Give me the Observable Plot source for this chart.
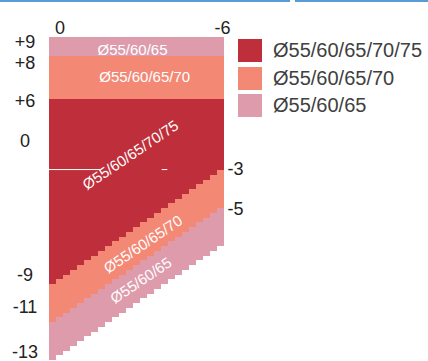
<!DOCTYPE html>
<html><head><meta charset="utf-8">
<script src="https://cdn.jsdelivr.net/npm/d3@7"></script>
<script src="https://cdn.jsdelivr.net/npm/@observablehq/plot@0.6"></script>
<style>
html,body{margin:0;padding:0;background:#fff;}
#wrap{position:relative;width:428px;height:361px;overflow:hidden;font-family:"Liberation Sans",Arial,sans-serif;}
#chart{position:absolute;left:0;top:0;}
.topline{position:absolute;top:0;height:2px;background:#5B9BD5;}
#legend{position:absolute;left:238px;top:37px;}
.li{display:flex;align-items:center;height:27.5px;}
.sw{width:24px;height:23px;margin-right:11px;}
.lt{font-size:20px;color:#404040;white-space:nowrap;}
</style></head><body>
<div id="wrap">
  <div class="topline" style="left:0;width:290px"></div>
  <div class="topline" style="left:295px;width:133px"></div>
  <div id="chart"></div>
  <div id="legend"></div>
</div>
<script>
// 25 stepped columns; y in step units (0 = top of chart)
const columns = [0,1,2,3,4,5,6,7,8,9,10,11,12,13,14,15,16,17,18,19,20,21,22,23,24];
const redBottom    = [52,51,50,49,48,47,46,45,44,43,42,41,40,39,38,37,36,35,34,33,32,31,30,29,28];
const salmonBottom = [60,59,58,57,56,55,54,53,52,51,50,49,48,47,46,45,44,43,42,41,40,39,38,37,36];
const pinkBottom   = [68,67,66,65,64,63,62,61,60,59,58,57,56,55,54,53,52,51,50,49,48,47,46,45,44];
const pinkTop = 0, salmonTop = 4, redTop = 13;

const seriesNames  = ["Ø55/60/65/70/75", "Ø55/60/65/70", "Ø55/60/65"];
const seriesColors = ["#BF2F3B", "#F38875", "#DD9BAC"];

const leftTickLabels = ["+9","+8","+6","0","-9","-11","-13"];
const leftTickPos    = [1.05, 5.5, 13.5, 21.9, 50.1, 56.8, 66.3];
const topTickLabels  = ["0","-6"];
const topTickPos     = [1.5, 24.7];
const rightTickLabels = ["-3","-5"];
const rightTickPos    = [27.8, 36.2];

const bandLabelText   = ["Ø55/60/65","Ø55/60/65/70","Ø55/60/65/70/75","Ø55/60/65/70","Ø55/60/65"];
const bandLabelX      = [11.86, 13.6, 11.6, 13.4, 13.1];
const bandLabelY      = [2.7, 8.4, 24.8, 43.6, 51.2];
const bandLabelRotate = [0, 0, -34, -34, -34];

const rects = [];
columns.forEach((c, i) => {
  rects.push({x1: c, x2: c + 1, y1: pinkTop, y2: salmonTop, s: seriesNames[2]});
  rects.push({x1: c, x2: c + 1, y1: salmonTop, y2: redTop, s: seriesNames[1]});
  rects.push({x1: c, x2: c + 1, y1: redTop, y2: redBottom[i], s: seriesNames[0]});
  rects.push({x1: c, x2: c + 1, y1: redBottom[i], y2: salmonBottom[i], s: seriesNames[1]});
  rects.push({x1: c, x2: c + 1, y1: salmonBottom[i], y2: pinkBottom[i], s: seriesNames[2]});
});
const bandLabels = bandLabelText.map((t, i) => ({t, x: bandLabelX[i], y: bandLabelY[i], r: bandLabelRotate[i]}));

const chart = Plot.plot({
  width: 428, height: 361,
  marginLeft: 49, marginRight: 204, marginTop: 37, marginBottom: 1,
  style: {fontFamily: '"Liberation Sans", Arial, sans-serif', background: "transparent", overflow: "visible"},
  x: {domain: [0, 25], axis: null},
  y: {domain: [0, 68], reverse: true, axis: null},
  color: {domain: seriesNames, range: seriesColors},
  marks: [
    Plot.rect(rects, {x1: "x1", x2: "x2", y1: "y1", y2: "y2", fill: "s", shapeRendering: "crispEdges"}),
    Plot.ruleY([rightTickPos[0]], {x1: 0, x2: 7.3, stroke: "white", strokeWidth: 1}),
    Plot.ruleY([rightTickPos[0]], {x1: 16.1, x2: 16.9, stroke: "white", strokeWidth: 1}),
    Plot.text(bandLabels, {x: "x", y: "y", text: "t", rotate: "r", fill: "white", fontSize: 15}),
    Plot.text(leftTickLabels, {y: leftTickPos, text: d => d, frameAnchor: "left", dx: -24.5, textAnchor: "middle", lineAnchor: "middle", fontSize: 18, fill: "#222"}),
    Plot.text(topTickLabels, {x: topTickPos, text: d => d, frameAnchor: "top", dy: -9, lineAnchor: "middle", fontSize: 18, fill: "#222"}),
    Plot.text(rightTickLabels, {y: rightTickPos, text: d => d, frameAnchor: "right", textAnchor: "start", lineAnchor: "middle", dx: 3, fontSize: 18, fill: "#222"})
  ]
});
document.getElementById("chart").appendChild(chart);

const legend = d3.select("#legend");
seriesNames.forEach((n, i) => {
  const row = legend.append("div").attr("class", "li");
  row.append("div").attr("class", "sw").style("background", seriesColors[i]);
  row.append("div").attr("class", "lt").text(n);
});
</script>
</body></html>
